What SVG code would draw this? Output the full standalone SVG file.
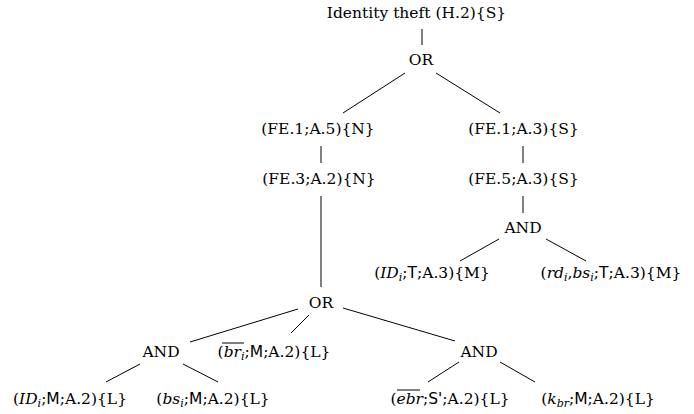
<svg xmlns="http://www.w3.org/2000/svg" width="694" height="414" viewBox="0 0 694 414">
  <style>
    .t { font-family: "DejaVu Serif", "Liberation Serif", serif; font-size: 15.5px; fill: #000; text-anchor: middle; }
    .m { font-style: italic; }
    .s { font-family: "DejaVu Sans", "Liberation Sans", sans-serif; }
    .sub { font-size: 11px; }
    .e { stroke: #000; stroke-width: 1; fill: none; }
  </style>
  <rect width="694" height="414" fill="#fff"/>

  <!-- tree edges -->
  <g id="edges" class="e">
    <line x1="422" y1="29" x2="422" y2="45"/>
    <line x1="405" y1="73" x2="343" y2="113"/>
    <line x1="436" y1="73" x2="500" y2="113"/>
    <line x1="321" y1="146" x2="321" y2="163"/>
    <line x1="523" y1="146" x2="523" y2="163"/>
    <line x1="321" y1="196" x2="321" y2="287"/>
    <line x1="523" y1="196" x2="523" y2="213"/>
    <line x1="499" y1="239" x2="460" y2="261"/>
    <line x1="546" y1="239" x2="586" y2="261"/>
    <line x1="298" y1="309" x2="190" y2="342"/>
    <line x1="309" y1="315" x2="291" y2="333"/>
    <line x1="343" y1="308" x2="455" y2="341"/>
    <line x1="140" y1="364" x2="106" y2="382"/>
    <line x1="183" y1="364" x2="218" y2="382"/>
    <line x1="459" y1="362" x2="428" y2="382"/>
    <line x1="500" y1="362" x2="535" y2="382"/>
  </g>

  <g id="root"><text class="t" x="416.5" y="18">Identity theft (H.2){S}</text></g>
  <g id="or-top"><text class="t" x="421" y="65">OR</text></g>
  <g id="fe1-a5"><text class="t" x="318" y="134">(FE.1;A.5){N}</text></g>
  <g id="fe1-a3"><text class="t" x="523.5" y="134">(FE.1;A.3){S}</text></g>
  <g id="fe3-a2"><text class="t" x="319" y="184">(FE.3;A.2){N}</text></g>
  <g id="fe5-a3"><text class="t" x="523.5" y="184">(FE.5;A.3){S}</text></g>
  <g id="and-right"><text class="t" x="523" y="233">AND</text></g>
  <g id="id-t"><text class="t" x="432" y="278">(<tspan class="m">ID</tspan><tspan class="m sub" dy="3">i</tspan><tspan dy="-3">;</tspan><tspan class="s">T</tspan>;A.3){M}</text></g>
  <g id="rd-bs-t"><text class="t" x="611" y="278">(<tspan class="m">rd</tspan><tspan class="m sub" dy="3">i</tspan><tspan dy="-3">,</tspan><tspan class="m">bs</tspan><tspan class="m sub" dy="3">i</tspan><tspan dy="-3">;</tspan><tspan class="s">T</tspan>;A.3){M}</text></g>
  <g id="or-low"><text class="t" x="321" y="308">OR</text></g>
  <g id="and-left"><text class="t" x="161" y="357">AND</text></g>
  <g id="br-m">
    <text class="t" x="274" y="357">(<tspan class="m">br</tspan><tspan class="m sub" dy="3">i</tspan><tspan dy="-3">;</tspan><tspan class="s">M</tspan>;A.2){L}</text>
    <line class="e" x1="222" y1="343" x2="244" y2="343"/>
  </g>
  <g id="and-mid"><text class="t" x="479" y="357">AND</text></g>
  <g id="id-m"><text class="t" x="70" y="404">(<tspan class="m">ID</tspan><tspan class="m sub" dy="3">i</tspan><tspan dy="-3">;</tspan><tspan class="s">M</tspan>;A.2){L}</text></g>
  <g id="bs-m"><text class="t" x="213" y="404">(<tspan class="m">bs</tspan><tspan class="m sub" dy="3">i</tspan><tspan dy="-3">;</tspan><tspan class="s">M</tspan>;A.2){L}</text></g>
  <g id="ebr-s">
    <text class="t" x="450" y="404">(<tspan class="m">ebr</tspan>;<tspan class="s">S'</tspan>;A.2){L}</text>
    <line class="e" x1="397" y1="390" x2="420" y2="390"/>
  </g>
  <g id="kbr-m"><text class="t" x="598" y="404">(<tspan class="m">k</tspan><tspan class="m sub" dy="3">br</tspan><tspan dy="-3">;</tspan><tspan class="s">M</tspan>;A.2){L}</text></g>
</svg>
